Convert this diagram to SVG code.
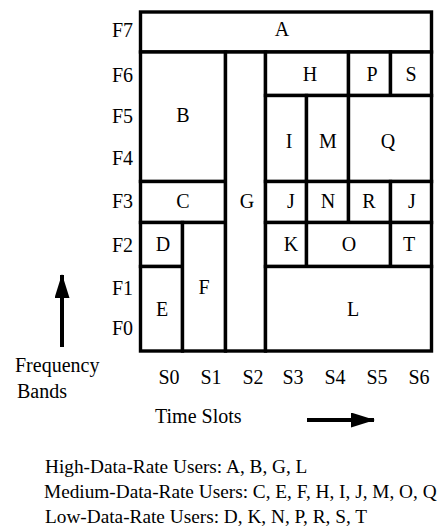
<svg xmlns="http://www.w3.org/2000/svg" width="445" height="529" viewBox="0 0 445 529">
<style>
.cell{fill:#fff;stroke:#000;stroke-width:3.4}
.lbl{font-family:"Liberation Serif","Times New Roman",serif;font-size:20px;fill:#000;text-anchor:middle}
.ax{font-family:"Liberation Serif","Times New Roman",serif;font-size:20px;fill:#000}
.band{text-anchor:end}
.slot{text-anchor:middle}
.leg{font-family:"Liberation Serif","Times New Roman",serif;font-size:19.3px;fill:#000}
.arr{stroke:#000;stroke-width:4;fill:none}
</style>
<defs>
<marker id="ah" markerUnits="userSpaceOnUse" markerWidth="26" markerHeight="16" refX="23" refY="7.5" orient="auto">
<path d="M0,0 L24,7.5 L0,15 Z" fill="#000"/>
</marker>
</defs>
<rect width="445" height="529" fill="#fff"/>
<g id="A"><rect class="cell" x="140.5" y="12" width="291" height="40"/><text class="lbl" x="282" y="36">A</text></g>
<g id="B"><rect class="cell" x="140.5" y="52" width="85" height="129.5"/><text class="lbl" x="183" y="122">B</text></g>
<g id="C"><rect class="cell" x="140.5" y="181.5" width="85" height="41"/><text class="lbl" x="183" y="208">C</text></g>
<g id="D"><rect class="cell" x="140.5" y="222.5" width="42" height="44"/><text class="lbl" x="163" y="251">D</text></g>
<g id="E"><rect class="cell" x="140.5" y="266.5" width="42" height="84.5"/><text class="lbl" x="162" y="316">E</text></g>
<g id="F"><rect class="cell" x="182.5" y="222.5" width="43" height="128.5"/><text class="lbl" x="204" y="294">F</text></g>
<g id="G"><rect class="cell" x="225.5" y="52" width="40" height="299"/><text class="lbl" x="247" y="208">G</text></g>
<g id="H"><rect class="cell" x="265.5" y="52" width="83" height="43.5"/><text class="lbl" x="310" y="81">H</text></g>
<g id="P"><rect class="cell" x="348.5" y="52" width="42" height="43.5"/><text class="lbl" x="372" y="81">P</text></g>
<g id="S"><rect class="cell" x="390.5" y="52" width="41" height="43.5"/><text class="lbl" x="411" y="81">S</text></g>
<g id="I"><rect class="cell" x="265.5" y="95.5" width="41" height="86"/><text class="lbl" x="289" y="148">I</text></g>
<g id="M"><rect class="cell" x="306.5" y="95.5" width="42" height="86"/><text class="lbl" x="328" y="148">M</text></g>
<g id="Q"><rect class="cell" x="348.5" y="95.5" width="83" height="86"/><text class="lbl" x="388" y="148">Q</text></g>
<g id="J1"><rect class="cell" x="265.5" y="181.5" width="41" height="41"/><text class="lbl" x="291" y="208">J</text></g>
<g id="N"><rect class="cell" x="306.5" y="181.5" width="42" height="41"/><text class="lbl" x="328" y="208">N</text></g>
<g id="R"><rect class="cell" x="348.5" y="181.5" width="42" height="41"/><text class="lbl" x="369" y="208">R</text></g>
<g id="J2"><rect class="cell" x="390.5" y="181.5" width="41" height="41"/><text class="lbl" x="412" y="208">J</text></g>
<g id="K"><rect class="cell" x="265.5" y="222.5" width="41" height="44"/><text class="lbl" x="291" y="251">K</text></g>
<g id="O"><rect class="cell" x="306.5" y="222.5" width="84" height="44"/><text class="lbl" x="349" y="251">O</text></g>
<g id="T"><rect class="cell" x="390.5" y="222.5" width="41" height="44"/><text class="lbl" x="409" y="251">T</text></g>
<g id="L"><rect class="cell" x="265.5" y="266.5" width="166" height="84.5"/><text class="lbl" x="353" y="316">L</text></g>
<g id="bands" class="ax band">
<text x="133" y="37">F7</text>
<text x="133" y="82">F6</text>
<text x="133" y="123">F5</text>
<text x="133" y="165">F4</text>
<text x="133" y="208">F3</text>
<text x="133" y="251.5">F2</text>
<text x="133" y="295">F1</text>
<text x="133" y="335">F0</text>
</g>
<g id="slots" class="ax slot">
<text x="169" y="384">S0</text>
<text x="211" y="384">S1</text>
<text x="253" y="384">S2</text>
<text x="293" y="384">S3</text>
<text x="335" y="384">S4</text>
<text x="377" y="384">S5</text>
<text x="419" y="384">S6</text>
</g>
<g id="axis-labels" class="ax">
<text x="15" y="372">Frequency</text>
<text x="17" y="398">Bands</text>
<text x="155" y="423">Time Slots</text>
</g>
<g id="connectors">
<line class="arr" x1="62" y1="347" x2="62" y2="275" marker-end="url(#ah)"/>
<line class="arr" x1="307" y1="420" x2="374" y2="420" marker-end="url(#ah)"/>
</g>
<g id="legend" class="leg">
<text x="45" y="473">High-Data-Rate Users: A, B, G, L</text>
<text x="44" y="498">Medium-Data-Rate Users: C, E, F, H, I, J, M, O, Q</text>
<text x="45" y="523">Low-Data-Rate Users: D, K, N, P, R, S, T</text>
</g>
</svg>
